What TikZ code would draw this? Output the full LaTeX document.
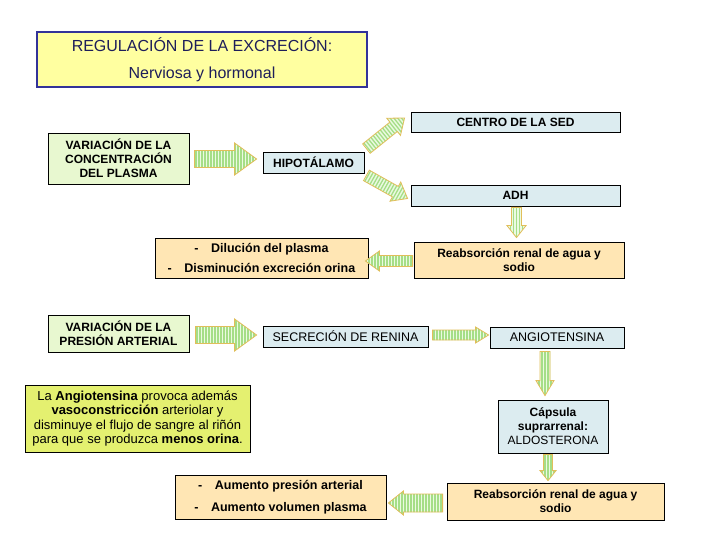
\documentclass[tikz,border=0pt]{standalone}
\usepackage{fontspec}
\setmainfont{Liberation Sans}
\usetikzlibrary{calc}
\definecolor{titlefill}{RGB}{255,255,160}
\definecolor{titleborder}{RGB}{51,51,153}
\definecolor{titletext}{RGB}{30,30,90}
\definecolor{greenfill}{RGB}{232,248,208}
\definecolor{bluefill}{RGB}{220,236,240}
\definecolor{peachfill}{RGB}{255,230,180}
\definecolor{notefill}{RGB}{228,240,112}
\definecolor{arrfill}{RGB}{235,250,225}
\definecolor{arrstripe}{RGB}{165,222,135}
\definecolor{arrborder}{RGB}{225,190,90}
\newcommand\barrgen[6]{%
  \path #2; \pgfgetlastxy{\ax}{\ay}%
  \path #3; \pgfgetlastxy{\bx}{\by}%
  \pgfmathsetmacro\bang{atan2(\by-\ay,\bx-\ax)}%
  \pgfmathsetmacro\blen{veclen(\bx-\ax,\by-\ay)}%
  \pgfmathsetmacro\bneck{\blen-#6}%
  \def\bw{#4}\def\bh{#5}%
  \begin{scope}[shift={(\ax,\ay)}, rotate=\bang]
    \def\bpoly{(0pt,-\bw pt) -- (\bneck pt,-\bw pt) -- (\bneck pt,-\bh pt) -- (\blen pt,0pt) -- (\bneck pt,\bh pt) -- (\bneck pt,\bw pt) -- (0pt,\bw pt) -- cycle}
    \fill[arrfill] \bpoly;
    \begin{scope}
      \clip \bpoly;
      \def\tmp{#1}\def\pp{par}%
      \ifx\tmp\pp
        \foreach \s in {-12,-9,...,12} \draw[arrstripe, line width=1.3pt] (0pt,\s pt) -- (\blen pt,\s pt);
      \else
        \foreach \s in {1.5,4.5,...,\blen} \draw[arrstripe, line width=1.3pt] (\s pt,-20pt) -- (\s pt,20pt);
      \fi
    \end{scope}
    \draw[arrborder, line width=0.8pt, line join=miter] \bpoly;
  \end{scope}%
}
\newcommand\barr[5]{\barrgen{perp}{#1}{#2}{#3}{#4}{#5}}
\newcommand\barrp[5]{\barrgen{par}{#1}{#2}{#3}{#4}{#5}}
\begin{document}
\begin{tikzpicture}[x=1pt,y=-1pt,
  box/.style={draw=black, line width=0.8pt, align=center, inner sep=1pt,
    font=\fontsize{12}{14}\selectfont\bfseries},
  gbox/.style={box, fill=greenfill},
  bbox/.style={box, fill=bluefill},
  pbox/.style={box, fill=peachfill}]
\fill[white] (0,0) rectangle (720,540);
\useasboundingbox (0,0) rectangle (720,540);

\node[draw=titleborder, line width=2.5pt, fill=titlefill, minimum width=330pt, minimum height=55pt,
  align=center, text=titletext, font=\fontsize{16}{27}\selectfont] (title) at (202,59.5)
  {REGULACIÓN DE LA EXCRECIÓN:\\Nerviosa y hormonal};

\node[gbox, minimum width=141pt, minimum height=51pt] (conc) at (118.5,158.5)
  {VARIACIÓN DE LA\\CONCENTRACIÓN\\DEL PLASMA};
\node[bbox, minimum width=101pt, minimum height=21pt] (hipo) at (313.5,162.5) {HIPOTÁLAMO};
\node[bbox, minimum width=209pt, minimum height=20pt] (sed) at (515.5,122) {CENTRO DE LA SED};
\node[bbox, minimum width=209pt, minimum height=21pt] (adh) at (515.5,195.5) {ADH};
\node[pbox, minimum width=210pt, minimum height=36pt] (reab1) at (519,260)
  {Reabsorción renal de agua y\\sodio};
\node[pbox, minimum width=213pt, minimum height=40pt, font=\fontsize{12.5}{20}\selectfont\bfseries] (dil) at (261.5,258)
  {-\quad Dilución del plasma\\-\quad Disminución excreción orina};
\node[gbox, minimum width=141pt, minimum height=37pt] (pres) at (118.5,333.5)
  {VARIACIÓN DE LA\\PRESIÓN ARTERIAL};
\node[bbox, minimum width=165pt, minimum height=21pt, font=\fontsize{12.5}{14}\selectfont] (ren) at (345.5,336.5)
  {SECRECIÓN DE RENINA};
\node[bbox, minimum width=134pt, minimum height=21pt, font=\fontsize{12.5}{14}\selectfont] (ang) at (557,337.5)
  {ANGIOTENSINA};
\node[bbox, minimum width=110pt, minimum height=53pt] (caps) at (553,426.5)
  {Cápsula\\suprarrenal:\\\mdseries ALDOSTERONA};
\node[pbox, minimum width=217pt, minimum height=37pt] (reab2) at (555.5,501.5)
  {Reabsorción renal de agua y\\sodio};
\node[pbox, minimum width=211pt, minimum height=44pt, font=\fontsize{12.5}{22}\selectfont\bfseries] (aum) at (280.5,497)
  {-\quad Aumento presión arterial\\-\quad Aumento volumen plasma};
\node[draw=black, line width=0.8pt, fill=notefill, minimum width=225pt, minimum height=67pt, inner sep=1pt,
  align=center, font=\fontsize{13}{14.6}\selectfont] (note) at (137.5,418.5)
  {La \textbf{Angiotensina} provoca además\\\textbf{vasoconstricción} arteriolar y\\disminuye el flujo de sangre al riñón\\para que se produzca \textbf{menos orina}.};

% block arrows
\barr{($(conc.east)+(5,0.5)$)}{($(conc.east -| hipo.west)+(-6,0.5)$)}{8.5}{16}{22}
\barr{($(hipo.north east)+(2,-3)$)}{($(sed.west)+(-6,-4)$)}{6}{11}{14}
\barr{($(hipo.south east)+(2,2)$)}{($(adh.west)+(-3,3)$)}{6}{11}{14}
\barrp{($(adh.south)+(1,1)$)}{($(adh.south |- reab1.north)+(1,-4)$)}{5}{9.5}{12}
\barr{($(reab1.west)+(-1,1)$)}{($(reab1.west -| dil.east)+(-3,1)$)}{5.5}{10}{14}
\barr{($(pres.east)+(6,1.5)$)}{($(pres.east -| ren.west)+(-6,1.5)$)}{8.5}{16}{22}
\barr{($(ren.east)+(4,-1.5)$)}{($(ren.east -| ang.west)+(-1,-1.5)$)}{5}{8}{13}
\barrp{($(ang.south)+(-12,3)$)}{($(ang.south |- caps.north)+(-12,-4)$)}{5}{9}{15}
\barrp{($(caps.south)+(-5,1)$)}{($(caps.south |- reab2.north)+(-5,-2)$)}{4.5}{8}{10}
\barr{($(reab2.west)+(-4,1.5)$)}{($(reab2.west -| aum.east)+(2,1.5)$)}{9}{12}{15}
\end{tikzpicture}
\end{document}
